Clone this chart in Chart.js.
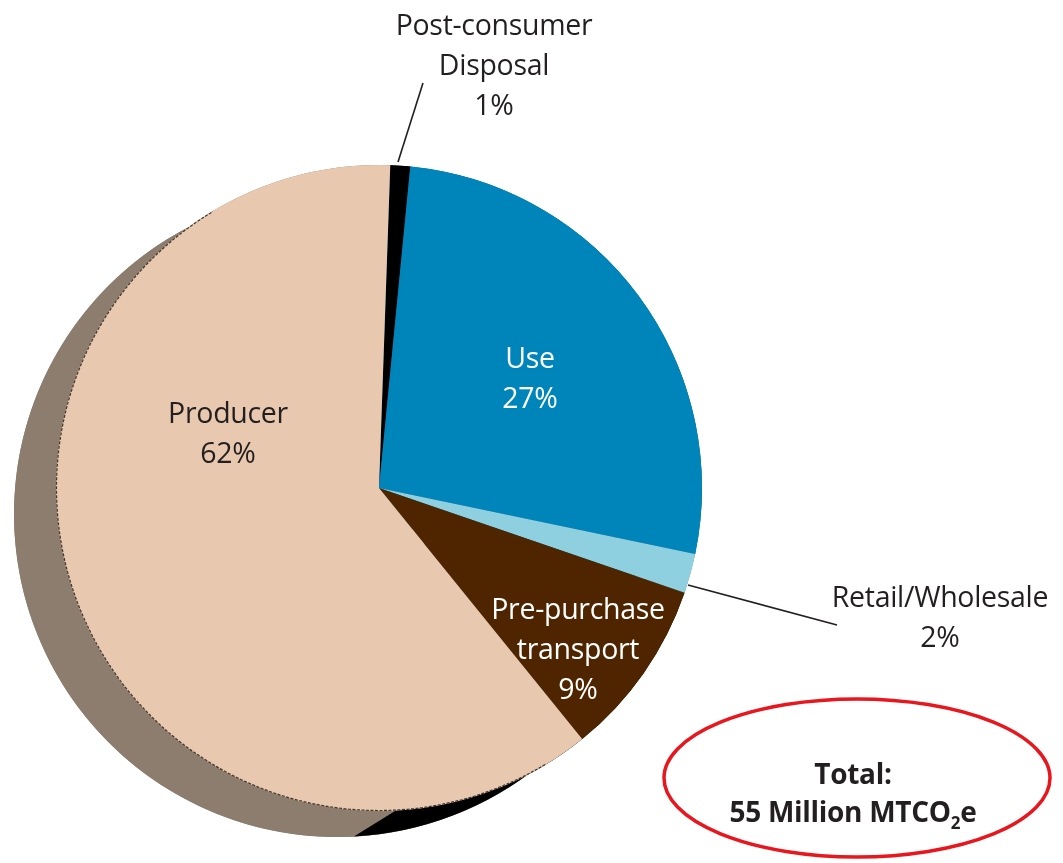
<!DOCTYPE html>
<html>
<head>
<meta charset="utf-8">
<script src="https://cdn.jsdelivr.net/npm/chart.js@4.4.1/dist/chart.umd.min.js"></script>
<style>
  html, body { margin: 0; padding: 0; background: #fff; }
  #wrap { position: relative; width: 1063px; height: 863px; overflow: hidden; font-family: "Open Sans", "Noto Sans", sans-serif; }
  #c { position: absolute; left: 0; top: 0; }
  .lbl { position: absolute; transform: translate(-50%, -50%); text-align: center; font-size: 28.5px; line-height: 40px; color: #231F20; white-space: nowrap; letter-spacing: -0.3px; }
  .lbl.w { color: #ffffff; }
  #overlay { position: absolute; left: 0; top: 0; pointer-events: none; }
  #total { position: absolute; left: 853px; top: 792px; transform: translate(-50%, -50%); text-align: center; font-weight: bold; font-size: 28px; line-height: 38px; color: #231F20; white-space: nowrap; letter-spacing: -0.3px; }
  #total sub { font-size: 17px; vertical-align: -7px; line-height: 0; }
</style>
</head>
<body>
<div id="wrap">
  <canvas id="c" width="1063" height="863"></canvas>
  <svg id="overlay" width="1063" height="863">
    <line x1="398" y1="162" x2="423" y2="83" stroke="#231F20" stroke-width="1.6"/>
    <line x1="688" y1="585" x2="837" y2="625" stroke="#231F20" stroke-width="1.6"/>
    <ellipse cx="857" cy="778" rx="193" ry="79" fill="none" stroke="#E8161D" stroke-width="3.5"/>
  </svg>
  <div id="labels"></div>
  <div id="total">Total:<br>55 Million MTCO<sub>2</sub>e</div>
</div>
<script>
// ---- data ----
const categories = ["Post-consumer Disposal", "Use", "Retail/Wholesale", "Pre-purchase transport", "Producer"];
const shares = [1, 27, 2, 9, 62];
const labelLines = [["Post-consumer", "Disposal"], ["Use"], ["Retail/Wholesale"], ["Pre-purchase", "transport"], ["Producer"]];

// ---- styles ----
const sliceColors = ["#000000", "#0085BB", "#8ECFE0", "#4F2500", "#E8C9AF"];
const shadowColors = ["#000000", "#00557a", "#5f8f9c", "#000000", "#8C7D6E"];
const labelPos = [[494, 64], [530, 377], [940, 616], [578, 648], [228, 432]];
const labelWhite = [false, true, false, true, false];

const extrude = { dx: -42, dy: 26 };

// side band swept by an arc edge when the pie is pushed back by (dx, dy)
function drawSide(ctx, p, start, end, color) {
  ctx.fillStyle = color;
  ctx.beginPath();
  ctx.arc(p.x, p.y, p.outerRadius, start, end);
  ctx.arc(p.x + extrude.dx, p.y + extrude.dy, p.outerRadius, end, start, true);
  ctx.closePath();
  ctx.fill();
}

const extrusionPlugin = {
  id: 'extrusion',
  beforeDatasetsDraw(chart) {
    const ctx = chart.ctx;
    const meta = chart.getDatasetMeta(0);
    ctx.save();
    meta.data.forEach((arc, i) => {
      const p = arc.getProps(['x', 'y', 'startAngle', 'endAngle', 'outerRadius'], true);
      drawSide(ctx, p, p.startAngle, p.endAngle, shadowColors[i]);
      // back face
      ctx.beginPath();
      ctx.moveTo(p.x + extrude.dx, p.y + extrude.dy);
      ctx.arc(p.x + extrude.dx, p.y + extrude.dy, p.outerRadius, p.startAngle, p.endAngle);
      ctx.closePath();
      ctx.fill();
    });
    // dark band continuing beneath the bottom of the producer slice
    const t = meta.data[3].getProps(['x', 'y', 'endAngle', 'outerRadius'], true);
    drawSide(ctx, t, t.endAngle, Math.PI / 180 * 87, "#000000");
    ctx.restore();
  },
  afterDatasetsDraw(chart) {
    const ctx = chart.ctx;
    const a = chart.getDatasetMeta(0).data[0].getProps(['x', 'y', 'outerRadius'], true);
    ctx.save();
    ctx.strokeStyle = "rgba(40,30,25,0.85)";
    ctx.lineWidth = 1.2;
    ctx.setLineDash([3, 1.5]);
    ctx.beginPath();
    ctx.arc(a.x, a.y, a.outerRadius - 0.5, Math.PI / 180 * 59, Math.PI / 180 * 239);
    ctx.stroke();
    ctx.restore();
  }
};

new Chart(document.getElementById('c'), {
  type: 'pie',
  data: {
    labels: categories,
    datasets: [{ data: shares, backgroundColor: sliceColors, borderWidth: 0, hoverOffset: 0 }]
  },
  options: {
    responsive: false,
    animation: false,
    rotation: 2,
    layout: { padding: { left: 56, top: 165, right: 361, bottom: 52 } },
    plugins: { legend: { display: false }, tooltip: { enabled: false } }
  },
  plugins: [extrusionPlugin]
});

// ---- slice labels (text built from the data arrays) ----
const labelsDiv = document.getElementById('labels');
categories.forEach((c, i) => {
  const d = document.createElement('div');
  d.className = 'lbl' + (labelWhite[i] ? ' w' : '');
  d.style.left = labelPos[i][0] + 'px';
  d.style.top = labelPos[i][1] + 'px';
  d.innerHTML = labelLines[i].concat([shares[i] + '%']).join('<br>');
  labelsDiv.appendChild(d);
});
</script>
</body>
</html>
